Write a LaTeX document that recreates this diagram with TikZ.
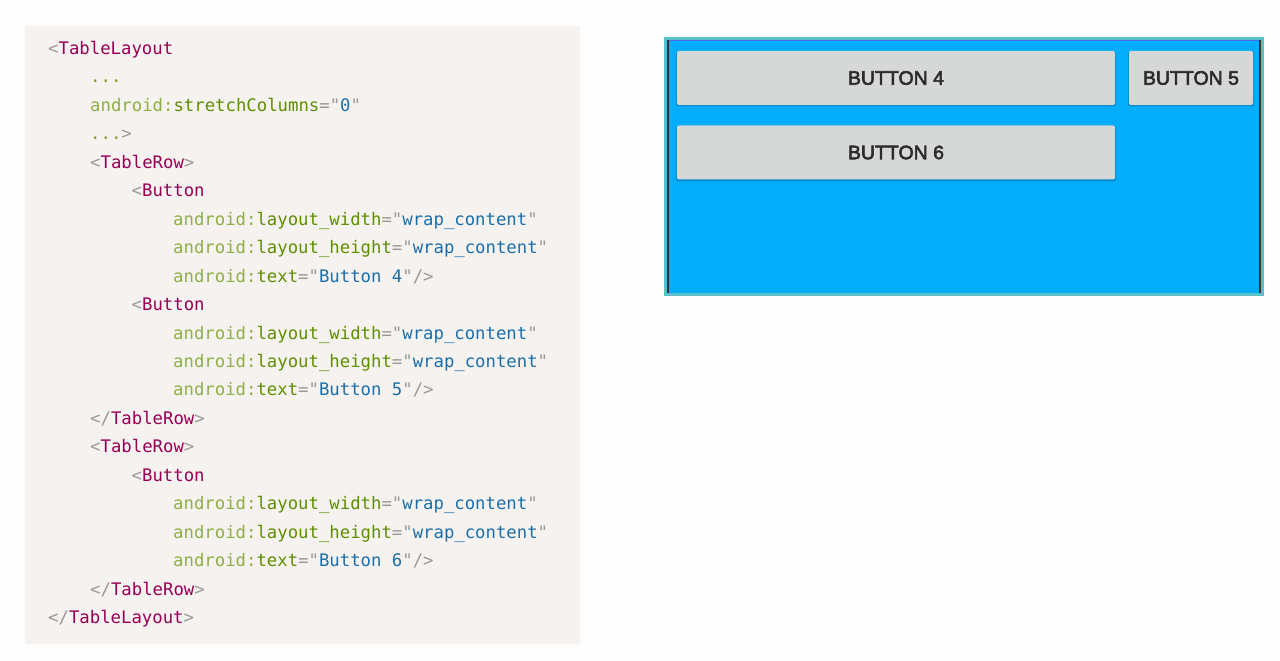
\documentclass[tikz,border=0pt]{standalone}
\usepackage{fontspec}
\setmainfont{Liberation Sans}
\newfontfamily\codefont{DejaVu Sans Mono}
\newfontfamily\btnfont[FakeBold=3]{Liberation Sans}
\definecolor{pagebg}{HTML}{FDFDFD}
\definecolor{codebg}{HTML}{F5F2F0}
\definecolor{tagc}{HTML}{990055}
\definecolor{punc}{HTML}{999999}
\definecolor{nsc}{HTML}{8EB044}
\definecolor{attrc}{HTML}{5F8F00}
\definecolor{valc}{HTML}{1B6FAA}
\definecolor{dotc}{HTML}{7F9F1F}
\definecolor{screen}{HTML}{04ACFC}
\definecolor{frame}{HTML}{5BBFC7}
\definecolor{topline}{HTML}{4A6CF0}
\definecolor{btnfill}{HTML}{D6D7D7}
\definecolor{btnshadow}{HTML}{0A8CCB}
\definecolor{btntext}{HTML}{2B2B2B}
\newcommand{\tg}[1]{\textcolor{tagc}{#1}}
\newcommand{\pu}[1]{\textcolor{punc}{#1}}
\newcommand{\nsp}{\textcolor{nsc}{android:}}
\newcommand{\an}[1]{\textcolor{attrc}{#1}}
\newcommand{\av}[1]{\pu{"}\textcolor{valc}{#1}\pu{"}}
\newcommand{\dt}{\textcolor{dotc}{...}}
\begin{document}
\begin{tikzpicture}[x=1bp,y=-1bp,
  codeline/.style={anchor=base west,inner sep=0pt,font=\codefont\fontsize{17.3bp}{20bp}\selectfont},
  btn/.style={fill=btnfill,rounded corners=2bp,inner sep=0pt,text=btntext,
     font=\btnfont\fontsize{19.5bp}{22bp}\selectfont},
  btnshade/.style={fill=btnshadow,rounded corners=2bp}
]
\useasboundingbox[fill=pagebg] (0,0) rectangle (1280,661);
% code panel
\path[fill=codebg] (25,26) rectangle (580,644);
\def\Lzero{48}\def\Lone{90}\def\Ltwo{131.5}\def\Lthree{173}
\def\off{6.5}
\node[codeline] (c0) at (\Lzero,48+\off) {\pu{<}\tg{TableLayout}};
\node[codeline] (c1) at (\Lone,76.45+\off) {\dt};
\node[codeline] (c2) at (\Lone,104.9+\off) {\nsp\an{stretchColumns}\pu{=}\av{0}};
\node[codeline] (c3) at (\Lone,133.35+\off) {\dt\pu{>}};
\node[codeline] (c4) at (\Lone,161.8+\off) {\pu{<}\tg{TableRow}\pu{>}};
\node[codeline] (c5) at (\Ltwo,190.25+\off) {\pu{<}\tg{Button}};
\node[codeline] (c6) at (\Lthree,218.7+\off) {\nsp\an{layout\_width}\pu{=}\av{wrap\_content}};
\node[codeline] (c7) at (\Lthree,247.15+\off) {\nsp\an{layout\_height}\pu{=}\av{wrap\_content}};
\node[codeline] (c8) at (\Lthree,275.6+\off) {\nsp\an{text}\pu{=}\av{Button 4}\pu{/>}};
\node[codeline] (c9) at (\Ltwo,304.05+\off) {\pu{<}\tg{Button}};
\node[codeline] (c10) at (\Lthree,332.5+\off) {\nsp\an{layout\_width}\pu{=}\av{wrap\_content}};
\node[codeline] (c11) at (\Lthree,360.95+\off) {\nsp\an{layout\_height}\pu{=}\av{wrap\_content}};
\node[codeline] (c12) at (\Lthree,389.4+\off) {\nsp\an{text}\pu{=}\av{Button 5}\pu{/>}};
\node[codeline] (c13) at (\Lone,417.85+\off) {\pu{</}\tg{TableRow}\pu{>}};
\node[codeline] (c14) at (\Lone,446.3+\off) {\pu{<}\tg{TableRow}\pu{>}};
\node[codeline] (c15) at (\Ltwo,474.75+\off) {\pu{<}\tg{Button}};
\node[codeline] (c16) at (\Lthree,503.2+\off) {\nsp\an{layout\_width}\pu{=}\av{wrap\_content}};
\node[codeline] (c17) at (\Lthree,531.65+\off) {\nsp\an{layout\_height}\pu{=}\av{wrap\_content}};
\node[codeline] (c18) at (\Lthree,560.1+\off) {\nsp\an{text}\pu{=}\av{Button 6}\pu{/>}};
\node[codeline] (c19) at (\Lone,588.55+\off) {\pu{</}\tg{TableRow}\pu{>}};
\node[codeline] (c20) at (\Lzero,617+\off) {\pu{</}\tg{TableLayout}\pu{>}};
% device screen
\path[fill=frame] (664,37) rectangle (1264,296);
\path[fill=screen] (667,40) rectangle (1261,293);
\path[fill=black!80] (667,40) rectangle (668.6,293);
\path[fill=black!80] (1259.4,40) rectangle (1261,293);
\path[fill=topline] (668.6,40) rectangle (1259.4,41.5);
% buttons
\path[btnshade] (676,52) rectangle (1116,106.5);
\path[btnshade] (1128,52) rectangle (1254,106.5);
\path[btnshade] (676,126) rectangle (1116,181.5);
\node[btn,minimum width=438bp,minimum height=54bp] (b4) at (896,78) {BUTTON 4};
\node[btn,minimum width=124bp,minimum height=54bp] (b5) at (1191,78) {BUTTON 5};
\node[btn,minimum width=438bp,minimum height=54bp] (b6) at (896,152.5) {BUTTON 6};
\end{tikzpicture}
\end{document}
